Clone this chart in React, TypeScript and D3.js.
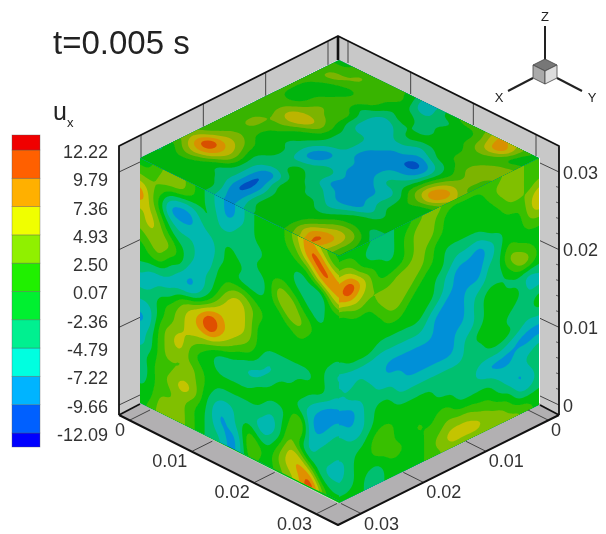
import React, { useMemo } from "react";
import * as d3 from "d3";

const levels = [-12.09, -9.66, -7.22, -4.79, -2.36, 0.07, 2.5, 4.93, 7.36, 9.79, 12.22];
const levelLabels = ["-12.09", "-9.66", "-7.22", "-4.79", "-2.36", "0.07", "2.50", "4.93", "7.36", "9.79", "12.22"];
const legendColors = ["#0000ff", "#0060ff", "#00b4ff", "#00ffe0", "#00f090", "#00f030", "#20f000", "#90f000", "#f0ff00", "#ffb000", "#ff6000", "#f00000"];
const sideColors = ["#0018c0", "#0050c8", "#0090d8", "#00b8b0", "#00c070", "#00c010", "#38c000", "#80c000", "#c4c400", "#e09000", "#e05000", "#d02000"];
const topColors = ["#0018b8", "#0050c0", "#0088cc", "#00b0aa", "#00b868", "#00b410", "#38b400", "#7cb400", "#bcb400", "#d89000", "#d85000", "#cc2000"];
const axisTicks = [0, 0.01, 0.02, 0.03];
const axisLabels = ["0", "0.01", "0.02", "0.03"];

// band letter per grid node: a = below -12.09 ... l = above 12.22
const topRows = [
  "ffgggggfecefggghjihgf",
  "ggghggggfddeeffgikiff",
  "ghhggggfffeefffghhgfg",
  "ggfffggfeffeefffggghh",
  "gfffggeeddefffffgghhh",
  "gffggggedddeedeffghhg",
  "gffghggeddddddcdefghg",
  "ggghhhgfeeddccbbdfhhg",
  "gfhijihfeedcccccdgijh",
  "ggghhgffeedcccddegjkh",
  "gghggffedcddccdeeghig",
  "gghgffeeccddcccddegff",
  "ggggfffeddeedcccdefff",
  "gghhgffeefeeccccdefff",
  "ghiihfeeeffeedcccdeff",
  "hjljigedcdffeeddeffff",
  "gijjhgedbdffffeefffee",
  "fghgfeedbcefffffghhge",
  "efffffedbceffffghiihf",
  "fffffffecceffffhjkjhf",
  "fffffffedcdefffghkihf",
];
const leftRows = [
  "ffghhgfedcdefffgijhgf",
  "gghhhgfedcdefffghkkhg",
  "ihgeddefddeeffffghkki",
  "khfcccdeeeeeefffefhjj",
  "higeddddefeeffffeedgi",
  "hihfeeddeffeefhgfeeff",
  "ghhhfeddffeeefhigfeff",
  "fghffddefghgfffhhgfff",
  "fffedcdegiihgfffgffff",
  "edddddegiiihffffffffe",
  "ddeeghikjiihfffffffed",
  "eefghijljihgfeeeeefee",
  "ddfghiiihgffedeefffed",
  "cdghihgfeeeddefffedcc",
  "deghigffeeeeffffedccd",
  "deghghgffffffeefhdcde",
  "efgghhgfeeeeedeghddee",
  "dfghiigeddeeddehfdeed",
  "efgghgfecdegeegiifedd",
  "ffhhhgfedcdhgfhijjfee",
  "fghhhgfeecdgffghiliff",
];
const rightRows = [
  "ffffeeffghhgggggghhgg",
  "ggfedefghhgffffghhhgg",
  "iigffefghhgfffffghhgh",
  "jljhfffghgfffffffgghj",
  "ijihgghhhgfeeeeffffhi",
  "fghghhhhgffeddcdeffgg",
  "ffffghhgffedcccdegfff",
  "fffffggfffedccceehhgf",
  "fffffffffedccddeefhhf",
  "efffeeeeedcccdeffeede",
  "ddddddddddcccdeffffdd",
  "ededdcccccccddefffeef",
  "deeedddcccccdefffeeef",
  "ccdeeedddddddeefffedd",
  "dcdeffeeeeeeeeeeedccc",
  "eddeffffffeeeedcccdde",
  "eeefggffffffeeeedddee",
  "deffhgffgfggffffedcde",
  "defffggffgghhhggffdde",
  "eefeeffffghiiiihhgfff",
  "fffeeffffgghhhhhhhhgf",
];

const bandCenters = [-13.3, ...d3.pairs(levels).map(([a, b]) => (a + b) / 2), 13.4];
const UP = 5;

function cr(p0: number, p1: number, p2: number, p3: number, t: number) {
  return 0.5 * (2 * p1 + (p2 - p0) * t + (2 * p0 - 5 * p1 + 4 * p2 - p3) * t * t + (3 * p1 - p0 - 3 * p2 + p3) * t * t * t);
}

function upsample(rows: string[]) {
  const n = 21;
  const g = rows.map((r) => Array.from(r.padEnd(n, r[r.length - 1])).slice(0, n).map((ch) => bandCenters[ch.charCodeAt(0) - 97]));
  const at = (r: number, c: number) => g[Math.max(0, Math.min(n - 1, r))][Math.max(0, Math.min(n - 1, c))];
  const m = (n - 1) * UP + 1;
  const out = new Float64Array(m * m);
  for (let j = 0; j < m; j++) {
    const r = Math.min(n - 2, Math.floor(j / UP));
    const tr = j / UP - r;
    for (let i = 0; i < m; i++) {
      const c = Math.min(n - 2, Math.floor(i / UP));
      const tc = i / UP - c;
      const col = [-1, 0, 1, 2].map((d) => cr(at(r + d, c - 1), at(r + d, c), at(r + d, c + 1), at(r + d, c + 2), tc));
      out[j * m + i] = cr(col[0], col[1], col[2], col[3], tr);
    }
  }
  d3.blur2({ data: out as any, width: m, height: m }, 1.5);
  return { out, m };
}

type Corners = { o: [number, number]; u: [number, number]; v: [number, number] };
// o: node (0,0); u: vector across a whole row; v: vector across a whole column
const topFace: Corners = { o: [339, 60], u: [200, 98], v: [-199, 98] };
const leftFace: Corners = { o: [140, 158], u: [199, 98], v: [0, 245] };
const rightFace: Corners = { o: [339, 256], u: [200, -98], v: [0, 247] };

function Face({ rows, face, colors, id }: { rows: string[]; face: Corners; colors: string[]; id: string }) {
  const paths = useMemo(() => {
    const { out, m } = upsample(rows);
    const cs = d3.contours().size([m, m]).thresholds(levels)(out as unknown as number[]);
    const uS = d3.scaleLinear([0.5, m - 0.5], [0, 1]).clamp(true);
    const proj = d3.geoTransform({
      point(x: number, y: number) {
        const a = uS(x), b = uS(y);
        (this as any).stream.point(face.o[0] + a * face.u[0] + b * face.v[0], face.o[1] + a * face.u[1] + b * face.v[1]);
      },
    });
    const gp = d3.geoPath(proj);
    return cs.map((c, i) => ({ d: gp(c as any) || "", fill: colors[i + 1] }));
  }, [rows, face, colors]);
  const o = face.o, u = face.u, v = face.v;
  const pts = [o, [o[0] + u[0], o[1] + u[1]], [o[0] + u[0] + v[0], o[1] + u[1] + v[1]], [o[0] + v[0], o[1] + v[1]]].map((p) => p.join(",")).join(" ");
  return (
    <g clipPath={`url(#${id})`}>
      <defs>
        <clipPath id={id}><polygon points={pts} /></clipPath>
      </defs>
      <polygon points={pts} fill={colors[0]} />
      {paths.map((p, i) => <path key={i} d={p.d} fill={p.fill} />)}
    </g>
  );
}

export default function App() {
  const font = "'Liberation Sans', Arial, sans-serif";
  const textC = "#333";
  const legY = d3.scaleLinear([levels[0], levels[10]], [433, 150]);
  const legendEdges = [legY(levels[0]) + 14, ...levels.map((l) => legY(l)), legY(levels[10]) - 15];
  const floorS = d3.scaleLinear([0, 0.03], [0, 187]);
  const zS = d3.scaleLinear([0, 0.03], [405, 172]);
  const wallL = d3.scaleLinear([0, 0.03], [141, 328]);
  const wallR = d3.scaleLinear([0, 0.03], [536, 348]);
  const minor = d3.range(0.002, 0.032, 0.002).filter((t) => Math.round(t * 1000) % 10 !== 0);
  return (
    <svg width={606} height={534} viewBox="0 0 606 534" style={{ position: "absolute", left: 0, top: 0, background: "#fff" }} fontFamily={font}>
      <defs>
        <filter id="soft" x="-5%" y="-5%" width="110%" height="110%"><feGaussianBlur stdDeviation="0.7" /></filter>
        <filter id="txt" x="-5%" y="-5%" width="110%" height="110%"><feGaussianBlur stdDeviation="0.25" /></filter>
      </defs>

      {/* walls */}
      <polygon points="119,146 338,36 338,60 140,158 140,403 119,415" fill="#c8c8c8" />
      <polygon points="559,146 338,36 338,60 540,158 540,403 559,415" fill="#c8c8c8" />
      <polygon points="119,415 338,525 338,503 140,403" fill="#b2b0b2" />
      <polygon points="559,415 338,525 338,503 540,403" fill="#b2b0b2" />

      <g filter="url(#soft)">
        <polygon points="339,60 539,158 539,403 339,503 140,403 140,158" fill="#00c010" />
        <Face rows={leftRows} face={leftFace} colors={sideColors} id="cl" />
        <Face rows={rightRows} face={rightFace} colors={sideColors} id="cr" />
        <Face rows={topRows} face={topFace} colors={topColors} id="ct" />
      </g>

      {/* grid lines on walls and floor */}
      <g stroke="#444" strokeWidth={1} fill="none">
        {axisTicks.map((t) => (
          <g key={t}>
            <line x1={119} y1={zS(t)} x2={140} y2={zS(t) - 10} />
            <line x1={559} y1={zS(t)} x2={540} y2={zS(t) - 9} />
            <line x1={wallL(t)} y1={146 - (wallL(t) - 119) * 0.5} x2={wallL(t)} y2={158 - (wallL(t) - 140) * 0.495} />
            <line x1={wallR(t)} y1={146 - (559 - wallR(t)) * 0.5} x2={wallR(t)} y2={158 - (540 - wallR(t)) * 0.495} />
            <line x1={130 + floorS(t)} y1={420 + floorS(t) / 2} x2={150 + floorS(t)} y2={410 + floorS(t) / 2} />
            <line x1={548 - floorS(t)} y1={420 + floorS(t) / 2} x2={528 - floorS(t)} y2={410 + floorS(t) / 2} />
          </g>
        ))}
        {minor.map((t) => <line key={t} x1={559} y1={zS(t)} x2={556} y2={zS(t) - 1} strokeWidth={0.8} />)}
      </g>
      {/* box outline */}
      <g stroke="#111" fill="none" strokeLinejoin="round">
        <polyline points="119,415 119,146 338,36 559,146 559,415" strokeWidth={1.8} />
        <polyline points="119,415 338,525 559,415" strokeWidth={2} />
        <line x1={338} y1={36} x2={338} y2={60} strokeWidth={2.6} />
        <line x1={119} y1={415} x2={140} y2={404} strokeWidth={1.8} />
        <line x1={559} y1={415} x2={540} y2={405} strokeWidth={1.8} />
      </g>

      {/* axis labels */}
      <g fill={textC} fontSize={18} filter="url(#txt)">
        {axisTicks.map((t, i) => (
          <g key={t}>
            <text x={563} y={zS(t) + 2} dominantBaseline="middle">{axisLabels[i]}</text>
            <text x={125 + floorS(t)} y={436 + floorS(t) / 2} textAnchor="end">{axisLabels[i]}</text>
            <text x={551 - floorS(t)} y={436 + floorS(t) / 2}>{axisLabels[i]}</text>
          </g>
        ))}
      </g>

      {/* title */}
      <text x={53} y={54} fontSize={33} fill="#222" filter="url(#txt)">t=0.005 s</text>
      <text x={53} y={120} fontSize={25} fill="#222" filter="url(#txt)">u<tspan fontSize={13} dy={7}>x</tspan></text>

      {/* legend */}
      <g>
        {legendColors.map((c, i) => (
          <rect key={c} x={12} y={legendEdges[i + 1]} width={28} height={legendEdges[i] - legendEdges[i + 1]} fill={c} stroke="#555" strokeOpacity={0.5} strokeWidth={0.7} />
        ))}
      </g>
      <g fill={textC} fontSize={18} textAnchor="end" filter="url(#txt)">
        {levelLabels.map((l, i) => (
          <text key={l} x={108} y={legY(levels[i]) + 8}>{l}</text>
        ))}
      </g>

      {/* axis triad */}
      <g stroke="#222" strokeWidth={2} fill="none">
        <line x1={545} y1={26} x2={545} y2={60} />
        <line x1={533} y1={78} x2={508} y2={91} />
        <line x1={557} y1={78} x2={582} y2={91} />
      </g>
      <polygon points="545,59 557,65 545,71 533,65" fill="#777" stroke="#444" strokeWidth={0.8} />
      <polygon points="533,65 545,71 545,84 533,78" fill="#aaa" stroke="#444" strokeWidth={0.8} />
      <polygon points="557,65 545,71 545,84 557,78" fill="#ddd" stroke="#444" strokeWidth={0.8} />
      <g fontSize={13} fill="#222" textAnchor="middle" filter="url(#txt)">
        <text x={545} y={21}>Z</text>
        <text x={499} y={102}>X</text>
        <text x={592} y={102}>Y</text>
      </g>
    </svg>
  );
}
